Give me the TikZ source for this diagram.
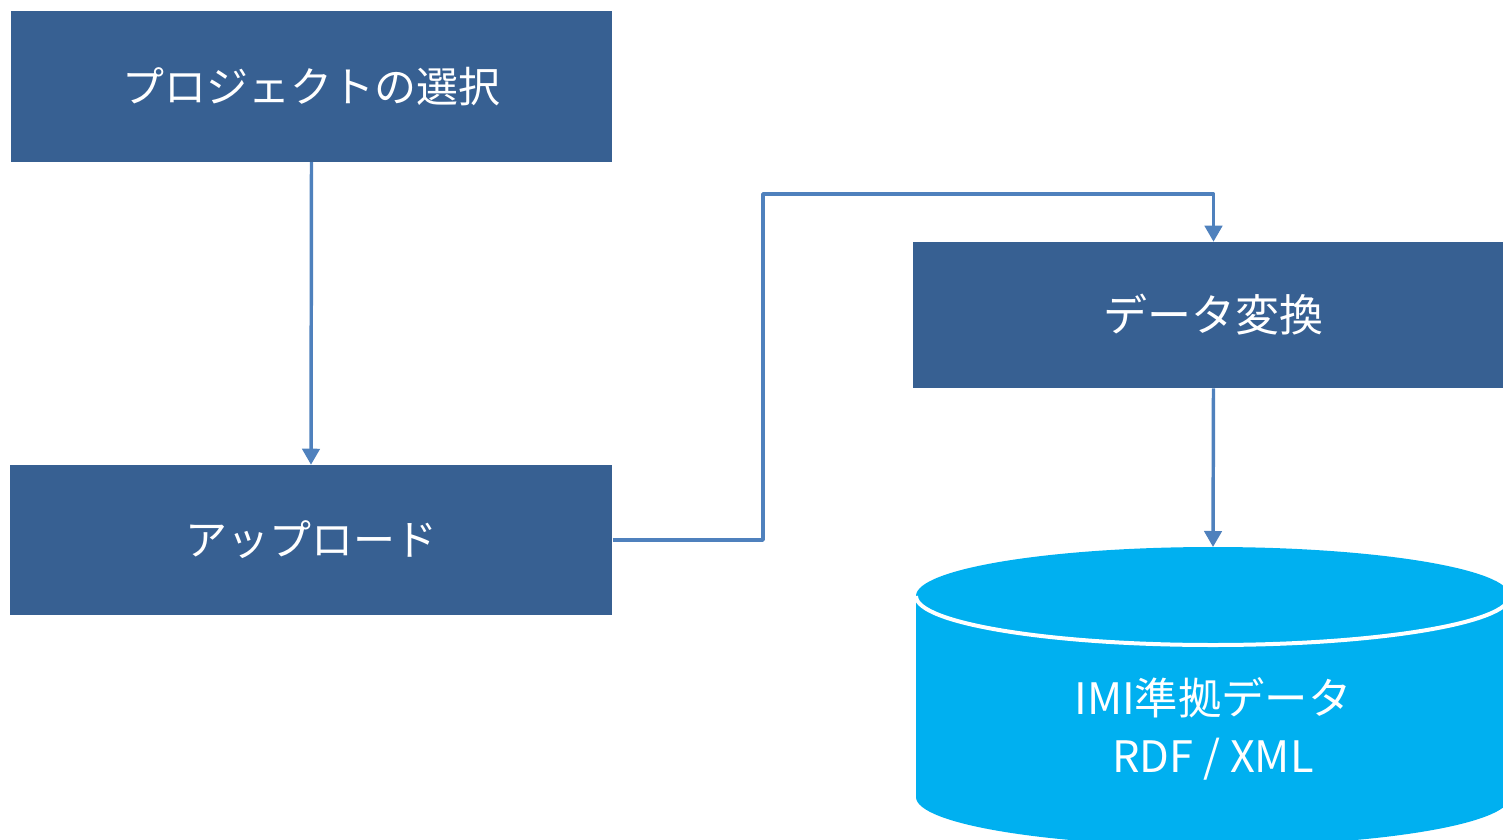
\documentclass[tikz,border=0pt]{standalone}
\usepackage{fontspec}
\setmainfont{Noto Sans CJK JP}
\usetikzlibrary{arrows.meta}
\definecolor{boxblue}{HTML}{376092}
\definecolor{linkblue}{HTML}{4F81BD}
\definecolor{dbcyan}{HTML}{00B0F0}
\tikzset{
  stepbox/.style={fill=boxblue, draw=none, text=white, inner sep=0pt,
    font=\fontsize{31.5}{38}\selectfont},
  link/.style={draw=linkblue, line width=2.6pt, line join=round,
    -{Triangle[length=12pt,width=13pt]}},
  dbtext/.style={text=white, align=center, font=\fontsize{32.5}{43}\selectfont}
}
\begin{document}
\begin{tikzpicture}[x=0.75pt,y=-0.75pt]
\useasboundingbox (0,0) rectangle (1503,839);
\clip (0,0) rectangle (1503,839);
% boxes
\node[stepbox, minimum width=451pt, minimum height=113pt] (sel) at (311.5,86.5) {プロジェクトの選択};
\node[stepbox, minimum width=452pt, minimum height=112.5pt] (up) at (311,540) {アップロード};
\node[stepbox, minimum width=451pt, minimum height=109.5pt] (conv) at (1213.5,315) {\fontsize{33}{38}\selectfont データ変換};
% cylinder
\fill[dbcyan] (916,596) -- (916,797) arc[start angle=180, end angle=0, x radius=297, y radius=49]
  -- (1510,596) arc[start angle=0, end angle=-180, x radius=297, y radius=49] -- cycle;
\draw[white, line width=3pt] (916,596) arc[start angle=180, end angle=0, x radius=297, y radius=49];
\coordinate (dbtop) at (1213,547);
\node[dbtext] (db) at (1213,729) {IMI準拠データ\\RDF / XML};
% connectors
\draw[link] (sel.south) -- (up.north);
\draw[link] (up.east) -- (763,540) -- (763,194) -- (conv.north |- 0,194) -- (conv.north);
\draw[link] (conv.south) -- (dbtop);
\end{tikzpicture}
\end{document}
